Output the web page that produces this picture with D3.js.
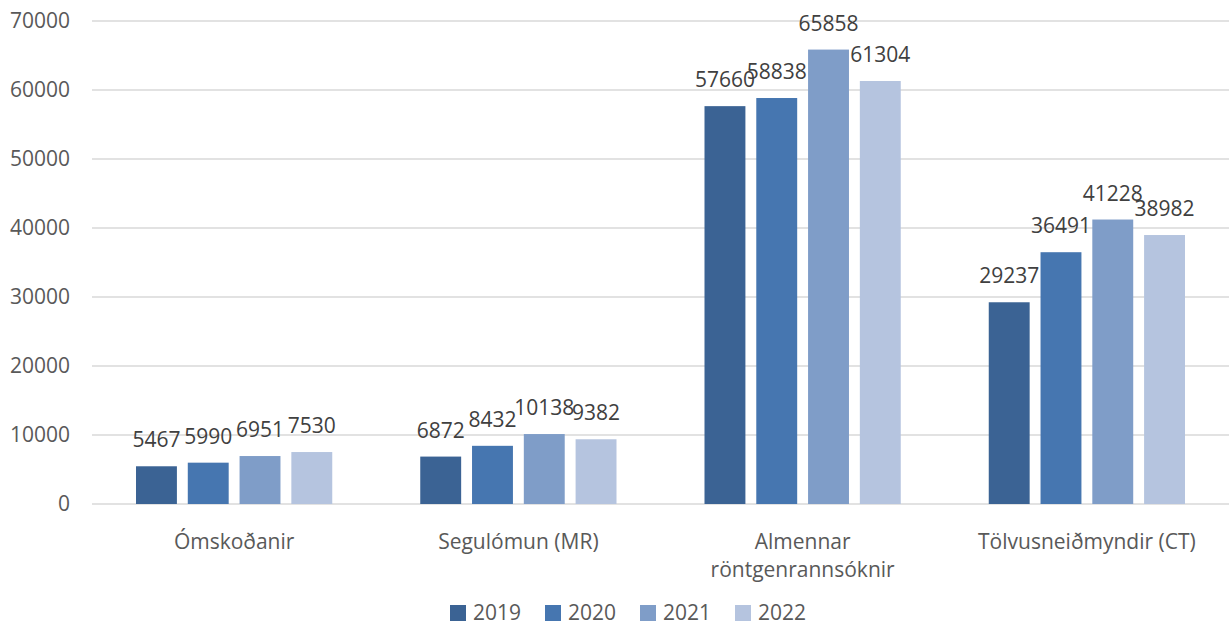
<!DOCTYPE html>
<html>
<head>
<meta charset="utf-8">
<script src="https://cdn.jsdelivr.net/npm/d3@7"></script>
<style>
  body { margin: 0; background: #fff; }
  svg { font-family: "Open Sans", sans-serif; }
</style>
</head>
<body>
<svg id="chart" width="1229" height="625"></svg>
<script>
// data
const categories = ["Ómskoðanir", "Segulómun (MR)", "Almennar röntgenrannsóknir", "Tölvusneiðmyndir (CT)"];
const years = ["2019", "2020", "2021", "2022"];
const v2019 = [5467, 6872, 57660, 29237];
const v2020 = [5990, 8432, 58838, 36491];
const v2021 = [6951, 10138, 65858, 41228];
const v2022 = [7530, 9382, 61304, 38982];
const yTicks = [0, 10000, 20000, 30000, 40000, 50000, 60000, 70000];
const colors = ["#3b6394", "#4676b0", "#7f9dc8", "#b5c4df"];

const series = [v2019, v2020, v2021, v2022];
const svg = d3.select("#chart");
const plotLeft = 92, plotRight = 1229, plotTop = 21, plotBottom = 504;
const fs = 21;

const x0 = d3.scaleBand().domain(categories).range([plotLeft, plotRight]).paddingInner(0).paddingOuter(0);
const x1 = d3.scaleBand().domain(years).range([44, x0.bandwidth() - 44]).paddingInner(0.21).paddingOuter(0);
const y = d3.scaleLinear().domain([0, 70000]).range([plotBottom, plotTop]);

// gridlines
svg.append("g").selectAll("line").data(yTicks).enter().append("line")
  .attr("x1", plotLeft).attr("x2", plotRight)
  .attr("y1", d => y(d)).attr("y2", d => y(d))
  .attr("stroke", "#d9d9d9").attr("stroke-width", 1.5);

// y axis labels
svg.append("g").selectAll("text").data(yTicks).enter().append("text")
  .attr("x", 70).attr("y", d => y(d) + 7)
  .attr("text-anchor", "end").attr("font-size", fs).attr("fill", "#595959")
  .text(d => d);

// bars
const groups = svg.append("g").selectAll("g").data(categories).enter().append("g")
  .attr("transform", d => `translate(${x0(d)},0)`);

groups.each(function (cat, ci) {
  const g = d3.select(this);
  years.forEach((yr, si) => {
    const v = series[si][ci];
    g.append("rect")
      .attr("x", x1(yr)).attr("width", x1.bandwidth())
      .attr("y", y(v)).attr("height", plotBottom - y(v))
      .attr("fill", colors[si]);
    g.append("text")
      .attr("x", x1(yr) + x1.bandwidth() / 2).attr("y", y(v) - 19)
      .attr("text-anchor", "middle").attr("font-size", fs).attr("fill", "#404040")
      .text(v);
  });
});

// category labels
const catLines = {"Almennar röntgenrannsóknir": ["Almennar", "röntgenrannsóknir"]};
svg.append("g").selectAll("text").data(categories).enter().append("text")
  .attr("x", d => x0(d) + x0.bandwidth() / 2).attr("y", 549)
  .attr("text-anchor", "middle").attr("font-size", fs).attr("fill", "#595959")
  .each(function (d) {
    const lines = catLines[d] || [d];
    lines.forEach((l, i) => {
      d3.select(this).append("tspan")
        .attr("x", x0(d) + x0.bandwidth() / 2).attr("dy", i === 0 ? 0 : 28)
        .text(l);
    });
  });

// legend
const legend = svg.append("g").selectAll("g").data(years).enter().append("g")
  .attr("transform", (d, i) => `translate(${450 + i * 95},605)`);
legend.append("rect").attr("width", 16).attr("height", 16).attr("fill", (d, i) => colors[i]);
legend.append("text").attr("x", 23).attr("y", 15).attr("font-size", fs).attr("fill", "#595959").text(d => d);
</script>
</body>
</html>
